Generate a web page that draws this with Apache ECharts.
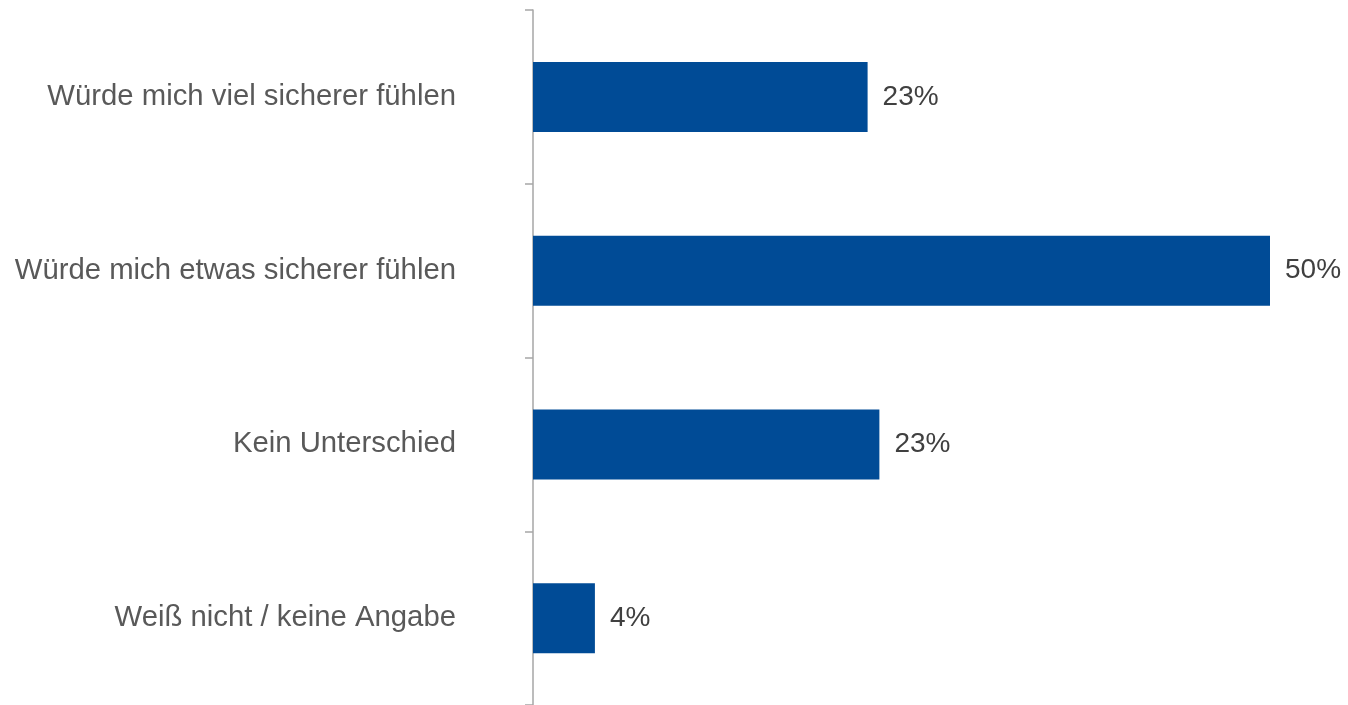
<!DOCTYPE html>
<html>
<head>
<meta charset="utf-8">
<script src="https://cdn.jsdelivr.net/npm/echarts@6/dist/echarts.min.js"></script>
<style>
  html, body { margin: 0; padding: 0; background: #fff; }
  #chart { width: 1348px; height: 705px; }
</style>
</head>
<body>
<div id="chart"></div>
<script>
// Antworten (von oben nach unten)
const categories = [
  'Würde mich viel sicherer fühlen',
  'Würde mich etwas sicherer fühlen',
  'Kein Unterschied',
  'Weiß nicht / keine Angabe'
]
// Balkenlängen aus dem Bild geschätzt
const values = [22.7, 50.0, 23.5, 4.2]
// Beschriftung wie im Original
const valueLabels = ['23%', '50%', '23%', '4%']

const chart = echarts.init(document.getElementById('chart'))
chart.setOption({
  animation: false,
  grid: { left: 533, right: 78, top: 10, bottom: 0, containLabel: false },
  xAxis: {
    type: 'value',
    min: 0,
    max: 50,
    show: false
  },
  yAxis: {
    type: 'category',
    data: categories,
    inverse: true,
    axisLine: { show: true, lineStyle: { color: '#a6a6a6', width: 1.5 } },
    axisTick: { show: true, length: 8, lineStyle: { color: '#a6a6a6', width: 1.5 } },
    axisLabel: {
      margin: 77,
      color: '#595959',
      fontSize: 29.3,
      padding: [5, 0, 0, 0],
      fontFamily: 'Liberation Sans, Arial, sans-serif'
    }
  },
  series: [{
    type: 'bar',
    data: values,
    barWidth: 70,
    itemStyle: { color: '#004b96' },
    label: {
      show: true,
      position: 'right',
      distance: 15,
      color: '#404040',
      fontSize: 28,
      padding: [6, 0, 0, 0],
      fontFamily: 'Liberation Sans, Arial, sans-serif',
      formatter: p => valueLabels[p.dataIndex]
    }
  }]
})
</script>
</body>
</html>
